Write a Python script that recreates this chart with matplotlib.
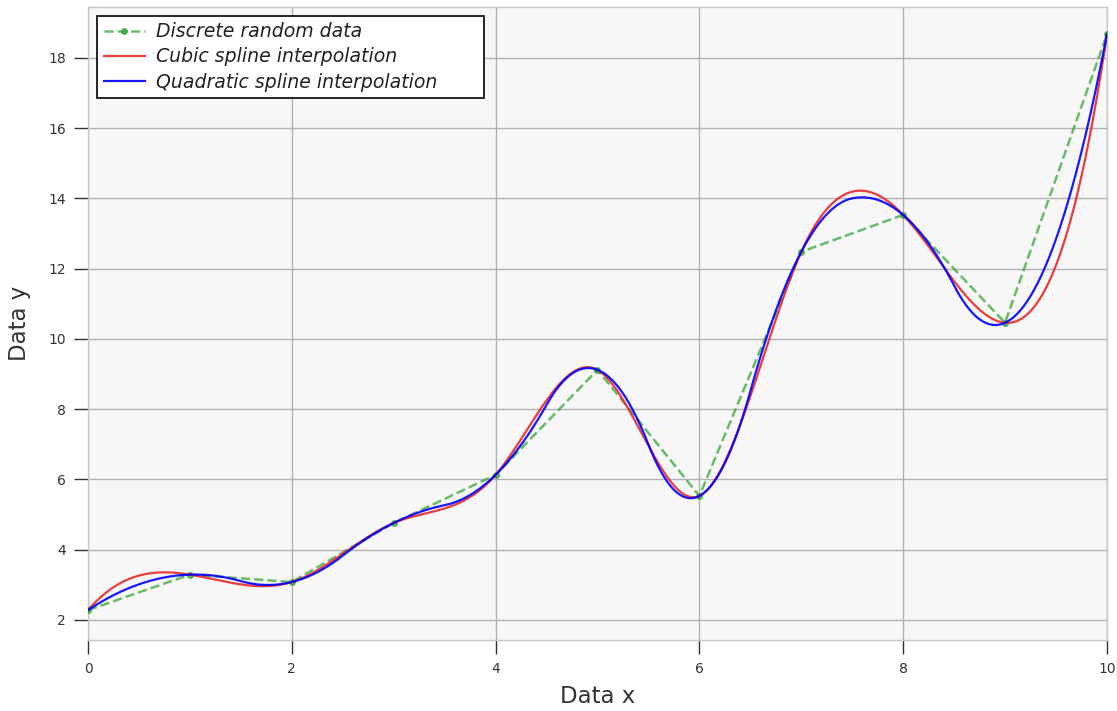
import numpy as np
import matplotlib
matplotlib.use("Agg")
import matplotlib.pyplot as plt

# Data
x_data = np.arange(0, 11)
y_data = [2.28, 3.29, 3.08, 4.76, 6.13, 9.12, 5.53, 12.48, 13.53, 10.46, 18.67]
x_ticks = [0, 2, 4, 6, 8, 10]
y_ticks = [2, 4, 6, 8, 10, 12, 14, 16, 18]


def bspline_basis(t, k, xs):
    """Evaluate all B-spline basis functions of degree k at points xs."""
    xs = np.asarray(xs, dtype=float)
    n = len(t) - k - 1
    B = np.zeros((len(xs), len(t) - 1))
    for i in range(len(t) - 1):
        if t[i] < t[i + 1]:
            B[:, i] = (xs >= t[i]) & (xs < t[i + 1])
    last = max(i for i in range(len(t) - 1) if t[i] < t[i + 1])
    B[xs == t[-1], :] = 0
    B[xs == t[-1], last] = 1
    for d in range(1, k + 1):
        Bn = np.zeros((len(xs), len(t) - 1 - d))
        for i in range(len(t) - 1 - d):
            a = np.zeros(len(xs))
            if t[i + d] != t[i]:
                a = (xs - t[i]) / (t[i + d] - t[i]) * B[:, i]
            b = np.zeros(len(xs))
            if t[i + d + 1] != t[i + 1]:
                b = (t[i + d + 1] - xs) / (t[i + d + 1] - t[i + 1]) * B[:, i + 1]
            Bn[:, i] = a + b
        B = Bn
    return B[:, :n]


def interp_spline(x, y, k, xs):
    x = np.asarray(x, dtype=float)
    y = np.asarray(y, dtype=float)
    if k % 2 == 1:
        inner = x[(k + 1) // 2: -((k + 1) // 2)]
    else:
        inner = ((x[1:] + x[:-1]) / 2)[k // 2: -(k // 2)]
    t = np.r_[[x[0]] * (k + 1), inner, [x[-1]] * (k + 1)]
    A = bspline_basis(t, k, x)
    c = np.linalg.solve(A, y)
    return bspline_basis(t, k, xs) @ c


xs = np.linspace(x_data[0], x_data[-1], 800)
y_cubic = interp_spline(x_data, y_data, 3, xs)
y_quad = interp_spline(x_data, y_data, 2, xs)

fig = plt.figure(figsize=(11.17, 7.11), dpi=100)
ax = fig.add_axes([0.0788, 0.0999, 0.9122, 0.8903])
ax.set_facecolor("#f7f7f7")

ax.plot(x_data, y_data, "--", color="#2ca02c", alpha=0.7, marker="o", markersize=4,
        linewidth=1.8, label="Discrete random data", zorder=3)
ax.plot(xs, y_cubic, color="#e8282a", linewidth=1.6, alpha=0.9, label="Cubic spline interpolation", zorder=4)
ax.plot(xs, y_quad, color="#0000ff", linewidth=1.6, alpha=0.9, label="Quadratic spline interpolation", zorder=5)

ax.set_xlim(0, 10)
ax.set_ylim(1.43, 19.45)
ax.set_xticks(x_ticks)
ax.set_yticks(y_ticks)
ax.grid(True, color="#b0b0b0", linewidth=1.0)
ax.set_axisbelow(True)
for s in ax.spines.values():
    s.set_color("#c8c8c8")
    s.set_linewidth(1.0)
ax.tick_params(axis="both", labelcolor="#333333", labelsize=10, length=10, width=1.0,
               direction="out", pad=6, color="#333333")

ax.set_xlabel("Data x", fontsize=16.5, color="#333333", labelpad=6)
ax.set_ylabel("Data y", fontsize=16.5, color="#333333", labelpad=12)

leg = ax.legend(loc="upper left", fancybox=False, framealpha=1, edgecolor="black",
                prop={"style": "italic", "size": 13.6}, borderpad=0.35, labelspacing=0.32,
                handlelength=2.2, handletextpad=0.6, borderaxespad=0, mode="expand",
                bbox_to_anchor=(0.0088, 0.5, 0.380, 0.486))
leg.get_frame().set_linewidth(1.2)
for txt in leg.get_texts():
    txt.set_color("#222222")

fig.savefig("out.png", dpi=100)
